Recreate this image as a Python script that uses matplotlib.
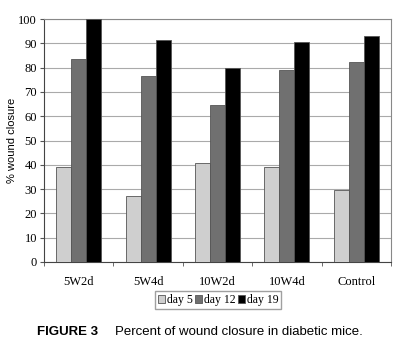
import matplotlib
matplotlib.use("Agg")
import matplotlib.pyplot as plt
import numpy as np

groups = ["5W2d", "5W4d", "10W2d", "10W4d", "Control"]
day5 = [39.1, 27.2, 40.8, 39.3, 29.6]
day12 = [83.5, 76.5, 64.6, 79.0, 82.3]
day19 = [100.0, 91.4, 79.8, 90.6, 93.0]
series = ["day 5", "day 12", "day 19"]
colors = ["#cfcfcf", "#707070", "#000000"]

plt.rcParams["font.family"] = ["Liberation Serif", "DejaVu Serif"]

fig = plt.figure(figsize=(4.02, 3.44), dpi=100)
ax = fig.add_axes([44/402, 1 - 262/344, 347/402, 243/344])

x = np.arange(len(groups))
w = 0.217
for i, (vals, c) in enumerate(zip([day5, day12, day19], colors)):
    ax.bar(x + (i - 1) * w, vals, w, color=c, edgecolor="#555555", linewidth=0.6,
           label=series[i], zorder=3)

ax.set_xlim(-0.5, 4.5)
ax.set_ylim(0, 100)
ax.set_yticks(range(0, 101, 10))
ax.set_xticks(x)
ax.set_xticklabels(groups, fontsize=9)
ax.set_xticks(np.arange(-0.5, 5, 1), minor=True)
ax.tick_params(axis="x", which="major", length=0, pad=10)
ax.tick_params(axis="x", which="minor", length=3, direction="out", color="#555555")
ax.tick_params(axis="y", labelsize=9, length=3, color="#555555", pad=2)
ax.yaxis.grid(True, color="#aaaaaa", linewidth=0.8, zorder=0)
for s in ["top", "right"]:
    ax.spines[s].set_color("#888888")
for s in ["left", "bottom"]:
    ax.spines[s].set_color("#444444")

# y label placed by hand so it stays inside the figure
fig.text(12/402, 1 - 140/344, "% wound closure", fontsize=8, family="Liberation Sans",
         rotation=90, ha="center", va="center")

fig.legend(loc="center", bbox_to_anchor=(218/402, 1 - 300/344), ncol=3, fontsize=8.5,
           frameon=True, fancybox=False, edgecolor="#888888", handlelength=0.6,
           handleheight=0.6, handletextpad=0.15, columnspacing=0.2, borderpad=0.25,
           borderaxespad=0)

fig.text(37/402, 1 - 332/344, "FIGURE 3", fontsize=9.5, fontweight="bold",
         family="Liberation Sans", va="center")
fig.text(115/402, 1 - 332/344, "Percent of wound closure in diabetic mice.", fontsize=9.5,
         family="Liberation Sans", va="center")

fig.savefig("out.png", dpi=100)
